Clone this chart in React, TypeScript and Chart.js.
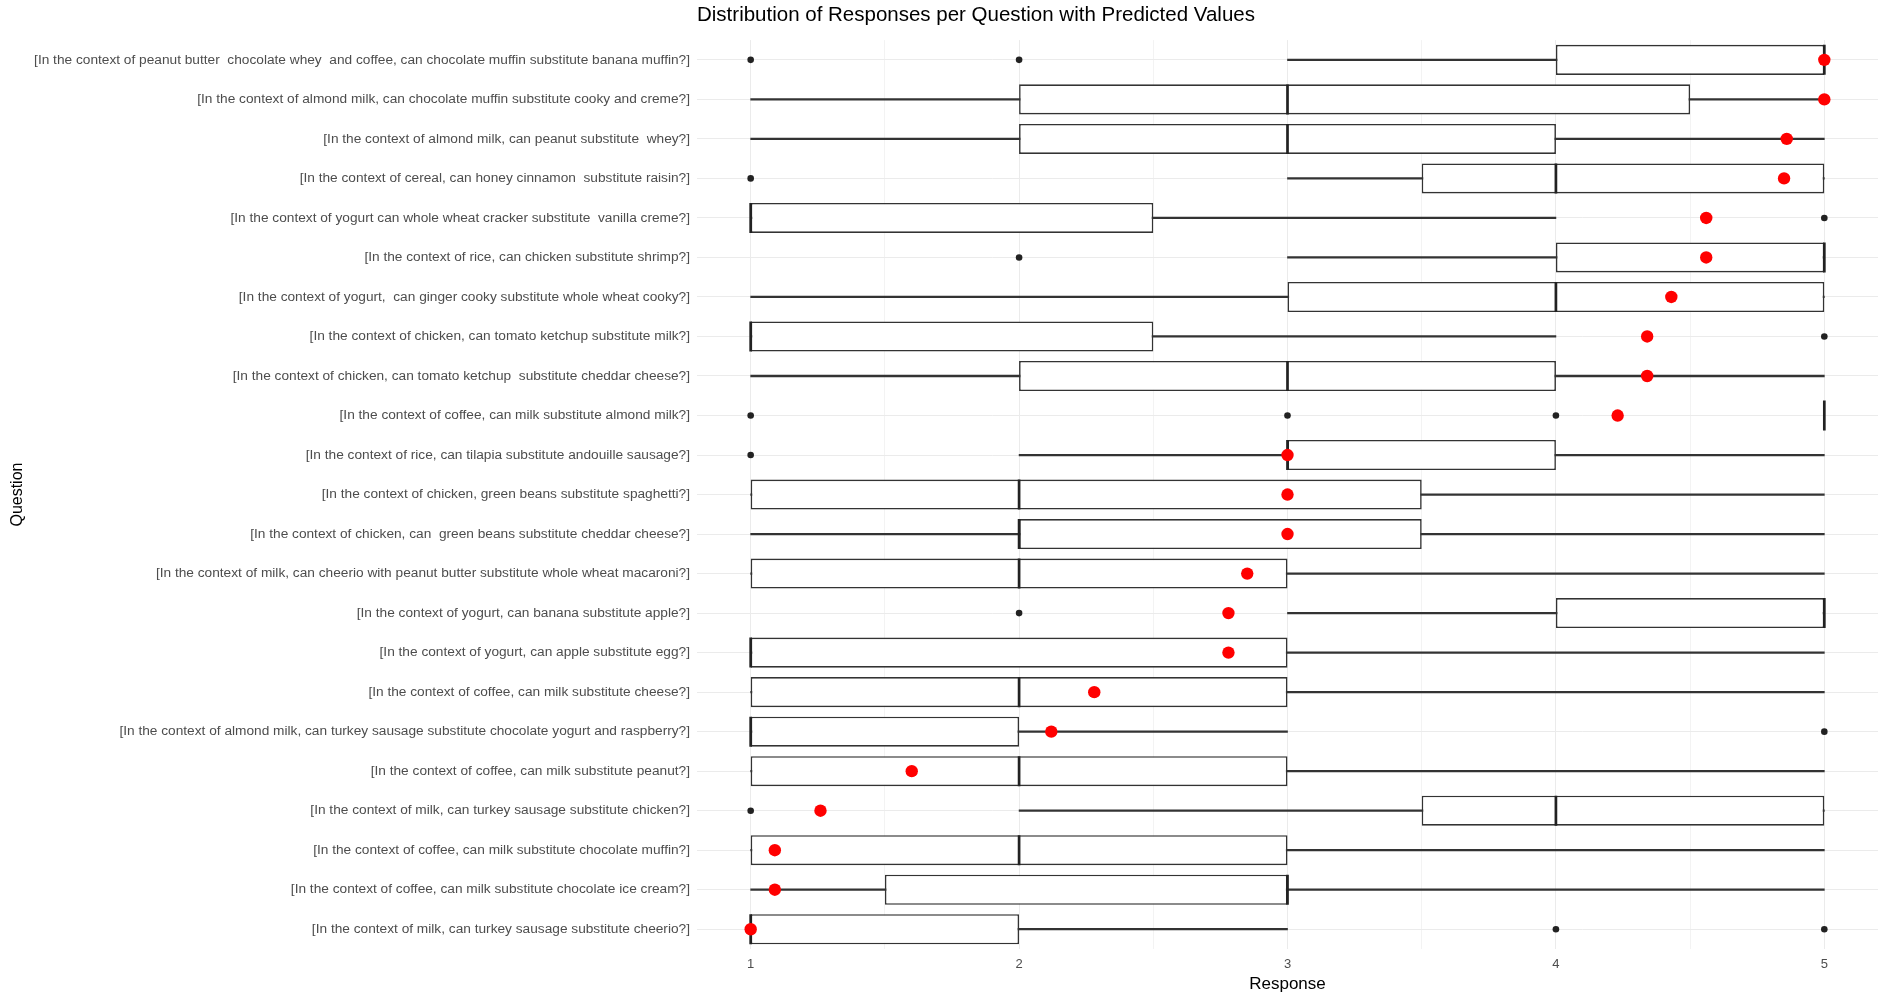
import React, { useEffect, useRef } from "react";
import { Chart, registerables } from "chart.js";

Chart.register(...registerables);

const chartTitle = "Distribution of Responses per Question with Predicted Values";
const xTitle = "Response";
const yTitle = "Question";

const questions = [
  "[In the context of peanut butter  chocolate whey  and coffee, can chocolate muffin substitute banana muffin?]",
  "[In the context of almond milk, can chocolate muffin substitute cooky and creme?]",
  "[In the context of almond milk, can peanut substitute  whey?]",
  "[In the context of cereal, can honey cinnamon  substitute raisin?]",
  "[In the context of yogurt can whole wheat cracker substitute  vanilla creme?]",
  "[In the context of rice, can chicken substitute shrimp?]",
  "[In the context of yogurt,  can ginger cooky substitute whole wheat cooky?]",
  "[In the context of chicken, can tomato ketchup substitute milk?]",
  "[In the context of chicken, can tomato ketchup  substitute cheddar cheese?]",
  "[In the context of coffee, can milk substitute almond milk?]",
  "[In the context of rice, can tilapia substitute andouille sausage?]",
  "[In the context of chicken, green beans substitute spaghetti?]",
  "[In the context of chicken, can  green beans substitute cheddar cheese?]",
  "[In the context of milk, can cheerio with peanut butter substitute whole wheat macaroni?]",
  "[In the context of yogurt, can banana substitute apple?]",
  "[In the context of yogurt, can apple substitute egg?]",
  "[In the context of coffee, can milk substitute cheese?]",
  "[In the context of almond milk, can turkey sausage substitute chocolate yogurt and raspberry?]",
  "[In the context of coffee, can milk substitute peanut?]",
  "[In the context of milk, can turkey sausage substitute chicken?]",
  "[In the context of coffee, can milk substitute chocolate muffin?]",
  "[In the context of coffee, can milk substitute chocolate ice cream?]",
  "[In the context of milk, can turkey sausage substitute cheerio?]",
];

const whiskerLow = [3, 1, 1, 3, 1, 3, 1, 1, 1, 5, 2, 1, 1, 1, 3, 1, 1, 1, 1, 2, 1, 1, 1];
const q1 = [4, 2, 2, 3.5, 1, 4, 3, 1, 2, 5, 3, 1, 2, 1, 4, 1, 1, 1, 1, 3.5, 1, 1.5, 1];
const median = [5, 3, 3, 4, 1, 5, 4, 1, 3, 5, 3, 2, 2, 2, 5, 1, 2, 1, 2, 4, 2, 3, 1];
const q3 = [5, 4.5, 4, 5, 2.5, 5, 5, 2.5, 4, 5, 4, 3.5, 3.5, 3, 5, 3, 3, 2, 3, 5, 3, 3, 2];
const whiskerHigh = [5, 5, 5, 5, 4, 5, 5, 4, 5, 5, 5, 5, 5, 5, 5, 5, 5, 3, 5, 5, 5, 5, 3];
const outliers: number[][] = [
  [1, 2], [], [], [1], [5], [2], [], [5], [], [1, 3, 4], [1], [], [], [], [2], [], [], [5], [], [1], [], [], [4, 5],
];
const predicted = [5.0, 5.0, 4.86, 4.85, 4.56, 4.56, 4.43, 4.34, 4.34, 4.23, 3.0, 3.0, 3.0, 2.85, 2.78, 2.78, 2.28, 2.12, 1.6, 1.26, 1.09, 1.09, 1.0];

const xTicks = [1, 1.5, 2, 2.5, 3, 3.5, 4, 4.5, 5];
const xMin = 0.8;
const xMax = 5.2;

const FONT = "'Liberation Sans', Arial, Helvetica, sans-serif";
const DARK = "#333333";

export default function App() {
  const ref = useRef<HTMLCanvasElement>(null);

  useEffect(() => {
    document.body.style.margin = "0";
    document.body.style.overflow = "hidden";
    const canvas = ref.current;
    if (!canvas) return;

    const outlierPoints = outliers.flatMap((arr, i) => arr.map((v) => ({ x: v, y: questions[i] })));

    const chart = new Chart(canvas, {
      type: "bar",
      data: {
        labels: questions,
        datasets: [
          {
            type: "scatter",
            label: "Predicted",
            data: predicted.map((v, i) => ({ x: v, y: questions[i] })),
            backgroundColor: "#ff0000",
            borderWidth: 0,
            pointRadius: 6.2,
            order: 0,
          } as any,
          {
            type: "scatter",
            label: "Outliers",
            data: outlierPoints,
            backgroundColor: "#222222",
            borderWidth: 0,
            pointRadius: 3.3,
            order: 1,
          } as any,
          {
            type: "scatter",
            label: "Median",
            data: median.map((v, i) => ({ x: v, y: questions[i] })),
            pointStyle: "line",
            rotation: 90,
            pointRadius: 15,
            borderColor: "#222222",
            borderWidth: 2.7,
            backgroundColor: "#222222",
            order: 2,
          } as any,
          {
            type: "bar",
            label: "Box",
            data: questions.map((_, i) => [q1[i], q3[i]]),
            backgroundColor: "#ffffff",
            borderColor: DARK,
            borderWidth: 1.6,
            borderSkipped: false,
            grouped: false,
            barPercentage: 0.76,
            categoryPercentage: 1,
            order: 3,
          } as any,
          {
            type: "bar",
            label: "Whisker",
            data: questions.map((_, i) => [whiskerLow[i], whiskerHigh[i]]),
            backgroundColor: DARK,
            borderWidth: 0,
            grouped: false,
            barThickness: 1.6,
            order: 4,
          } as any,
        ],
      },
      options: {
        indexAxis: "y",
        animation: false,
        responsive: true,
        maintainAspectRatio: false,
        events: [],
        layout: { autoPadding: false, padding: { left: 0, right: 5, top: 0, bottom: 0 } },
        plugins: {
          legend: { display: false },
          tooltip: { enabled: false },
          title: {
            display: true,
            text: chartTitle,
            align: "start",
            fullSize: false,
            color: "#000000",
            font: { family: FONT, size: 20.5, weight: "normal" },
            padding: { top: 3.5, bottom: 12 },
          },
        },
        scales: {
          x: {
            type: "linear",
            min: xMin,
            max: xMax,
            afterBuildTicks: (scale: any) => {
              scale.ticks = xTicks.map((v) => ({ value: v }));
            },
            afterFit: (scale: any) => {
              scale.height = 46;
            },
            ticks: {
              color: "#4d4d4d",
              font: { family: FONT, size: 13 },
              padding: 8,
              autoSkip: false,
              maxRotation: 0,
              callback: (v: any) => (Number.isInteger(Number(v)) ? String(v) : ""),
            },
            grid: {
              drawTicks: false,
              color: (ctx: any) => (Number.isInteger(ctx.tick?.value) ? "#ebebeb" : "#f3f3f3"),
              lineWidth: 1,
            },
            border: { display: false },
            title: {
              display: true,
              text: xTitle,
              color: "#000000",
              font: { family: FONT, size: 17 },
              padding: { top: 2, bottom: 0 },
            },
          },
          y: {
            type: "category",
            offset: true,
            afterFit: (scale: any) => {
              scale.width = 697;
            },
            ticks: {
              color: "#4d4d4d",
              font: { family: FONT, size: 13.7 },
              padding: 7,
              autoSkip: false,
            },
            grid: {
              offset: false,
              drawTicks: false,
              color: "#ebebeb",
              lineWidth: 1,
            },
            border: { display: false },
            title: {
              display: true,
              text: yTitle,
              color: "#000000",
              font: { family: FONT, size: 16 },
              padding: { top: 8, bottom: 0 },
            },
          },
        },
      } as any,
    });

    return () => chart.destroy();
  }, []);

  return (
    <div style={{ width: 1883, height: 995, position: "relative" }}>
      <canvas ref={ref} />
    </div>
  );
}
